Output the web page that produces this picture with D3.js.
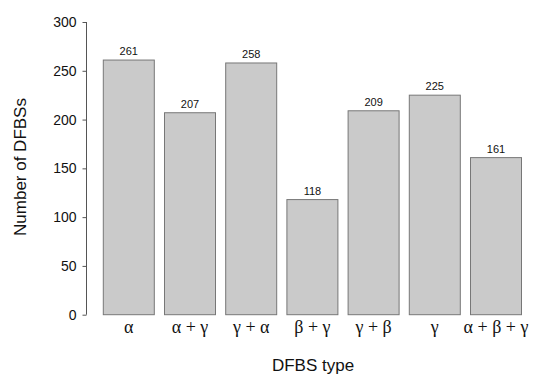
<!DOCTYPE html>
<meta charset="utf-8" />
<style>
    body { margin: 0; }
    svg { display: block; }
</style>
<svg width="533" height="376"></svg>
<script src="https://d3js.org/d3.v7.min.js"></script>
<script>
    var svg = d3.select("svg");

    // data
    var types = ["α", "α + γ", "γ + α", "β + γ", "γ + β", "γ", "α + β + γ"];
    var counts = [261, 207, 258, 118, 209, 225, 161];
    var yTicks = [0, 50, 100, 150, 200, 250, 300];

    var x = d3.scaleBand()
        .domain(types)
        .range([103.3, 521.5])
        .paddingInner(0.2 / 1.2)
        .paddingOuter(0);

    var y = d3.scaleLinear()
        .domain([0, 300])
        .range([314.7, 22]);

    svg.append("rect")
        .attr("width", 533).attr("height", 376).attr("fill", "white");

    // y axis
    var yAxis = svg.append("g")
        .attr("transform", "translate(86.5,0)")
        .call(d3.axisLeft(y).tickValues(yTicks).tickSize(4).tickPadding(6));
    yAxis.select(".domain").attr("stroke", "#555").attr("d", "M-0,22V314.7");
    yAxis.selectAll(".tick line").attr("stroke", "#555");
    yAxis.selectAll("text")
        .attr("font-family", "Liberation Sans, Arial, sans-serif")
        .attr("font-size", 14)
        .attr("fill", "#111");

    // bars
    svg.append("g")
        .selectAll("rect")
        .data(counts)
        .enter()
        .append("rect")
        .attr("x", function(d, i) { return x(types[i]); })
        .attr("y", function(d) { return y(d); })
        .attr("width", x.bandwidth())
        .attr("height", function(d) { return y(0) - y(d); })
        .attr("fill", "#cacaca")
        .attr("stroke", "#777")
        .attr("stroke-width", 1);

    // value labels
    svg.append("g")
        .selectAll("text")
        .data(counts)
        .enter()
        .append("text")
        .attr("x", function(d, i) { return x(types[i]) + x.bandwidth() / 2; })
        .attr("y", function(d) { return y(d) - 5; })
        .attr("text-anchor", "middle")
        .attr("font-family", "Liberation Sans, Arial, sans-serif")
        .attr("font-size", 11)
        .attr("fill", "#111")
        .text(function(d) { return d; });

    // category labels (greek, serif)
    svg.append("g")
        .selectAll("text")
        .data(types)
        .enter()
        .append("text")
        .attr("x", function(d) { return x(d) + x.bandwidth() / 2; })
        .attr("y", 333)
        .attr("text-anchor", "middle")
        .attr("font-family", "Liberation Serif, Times New Roman, serif")
        .attr("font-size", 18)
        .attr("fill", "#111")
        .text(function(d) { return d; });

    // axis titles
    svg.append("text")
        .attr("x", 313)
        .attr("y", 371)
        .attr("text-anchor", "middle")
        .attr("font-family", "Liberation Sans, Arial, sans-serif")
        .attr("font-size", 17)
        .attr("fill", "#111")
        .text("DFBS type");

    svg.append("text")
        .attr("transform", "translate(26,167) rotate(-90)")
        .attr("text-anchor", "middle")
        .attr("font-family", "Liberation Sans, Arial, sans-serif")
        .attr("font-size", 17)
        .attr("fill", "#111")
        .text("Number of DFBSs");
</script>
